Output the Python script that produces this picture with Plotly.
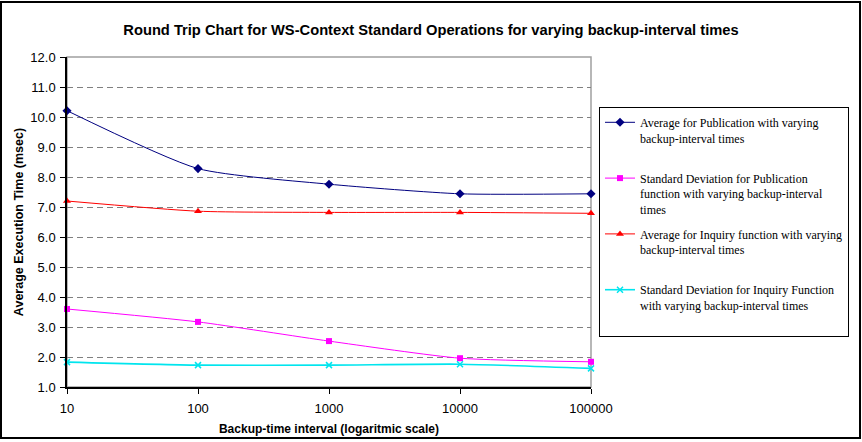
import plotly.graph_objects as go

# ---- data ----
intervals = [10, 100, 1000, 10000, 100000]
pub_avg = [10.21, 8.28, 7.76, 7.44, 7.44]
pub_std = [3.60, 3.17, 2.53, 1.96, 1.84]
inq_avg = [7.20, 6.86, 6.82, 6.82, 6.79]
inq_std = [1.83, 1.73, 1.73, 1.76, 1.62]
series_names = [
    "Average for Publication with varying<br>backup-interval times<br> ",
    "Standard Deviation for Publication<br>function with varying backup-interval<br>times",
    "Average for Inquiry function with varying<br>backup-interval times<br> ",
    "Standard Deviation for Inquiry Function<br>with varying backup-interval times<br> ",
]
x_ticks = [10, 100, 1000, 10000, 100000]
x_tick_text = ["10", "100", "1000", "10000", "100000"]
y_ticks = [1, 2, 3, 4, 5, 6, 7, 8, 9, 10, 11, 12]

W, H = 862, 442
L, R, T, B = 67, 271, 57, 55
pw, ph = W - L - R, H - T - B

styles = [
    dict(color="#000080", symbol="diamond", size=7, width=1),
    dict(color="#FF00FF", symbol="square", size=6, width=1),
    dict(color="#FF0000", symbol="triangle-up", size=7, width=1),
    dict(color="#00E5EE", symbol="x-thin", size=6, width=1.6),
]
values = [pub_avg, pub_std, inq_avg, inq_std]

fig = go.Figure()
for i, (name, vals, st) in enumerate(zip(series_names, values, styles)):
    fig.add_trace(go.Scatter(
        x=intervals, y=vals, name=name, mode="lines+markers",
        line=dict(color=st["color"], width=st["width"], shape="spline", smoothing=0.6),
        marker=dict(symbol=st["symbol"], size=st["size"], color=st["color"],
                    line=dict(color=st["color"], width=1.5 if "x" in st["symbol"] else 0)),
        legendgroup=f"g{i}", cliponaxis=False,
    ))

# plot-area border (gray) and outer chart border (black)
fig.add_shape(type="rect", xref="paper", yref="paper", x0=0, x1=1, y0=0, y1=1,
              line=dict(color="#A0A0A0", width=1.5), layer="below")
fig.add_shape(type="rect", xref="paper", yref="paper",
              x0=(1 - L) / pw, x1=(W - 2 - L) / pw,
              y0=-(B - 4) / ph, y1=1 + (T - 2) / ph,
              line=dict(color="#000000", width=2))

fig.update_layout(
    width=W, height=H, autosize=False,
    margin=dict(l=L, r=R, t=T, b=B, autoexpand=False),
    paper_bgcolor="white", plot_bgcolor="white",
    font=dict(family="Liberation Sans, Arial", color="black"),
    title=dict(text="<b>Round Trip Chart for WS-Context Standard Operations for varying backup-interval times</b>",
               x=0.5, xref="container", y=1 - 30 / H, yanchor="middle",
               font=dict(size=14.7, color="black")),
    showlegend=True,
    legend=dict(
        x=(599 - L) / pw, y=1 - (107 - T) / ph, xanchor="left", yanchor="top",
        bordercolor="black", borderwidth=1, bgcolor="white",
        font=dict(family="Liberation Serif, Times New Roman", size=12, color="black"),
        valign="top", tracegroupgap=6, itemwidth=30,
    ),
    xaxis=dict(
        type="log", range=[1, 5], tickvals=x_ticks, ticktext=x_tick_text,
        showgrid=False, zeroline=False, automargin=False,
        showline=True, linecolor="black", linewidth=1.5,
        ticks="outside", ticklen=5, tickcolor="black",
        tickfont=dict(size=13), ticklabelstandoff=4,
        title=dict(text="<b>Backup-time interval (logaritmic scale)</b>", font=dict(size=12), standoff=9),
    ),
    yaxis=dict(
        range=[1, 12], tickvals=y_ticks, tickformat=".1f",
        showgrid=True, gridcolor="#808080", griddash="6px,4px", gridwidth=1,
        zeroline=False, automargin=False,
        showline=True, linecolor="black", linewidth=1.5,
        ticks="outside", ticklen=5, tickcolor="black",
        tickfont=dict(size=13), ticklabelstandoff=2,
        title=dict(text="<b>Average Execution Time (msec)</b>", font=dict(size=12.5), standoff=4),
    ),
)

fig.write_html("out.html")
